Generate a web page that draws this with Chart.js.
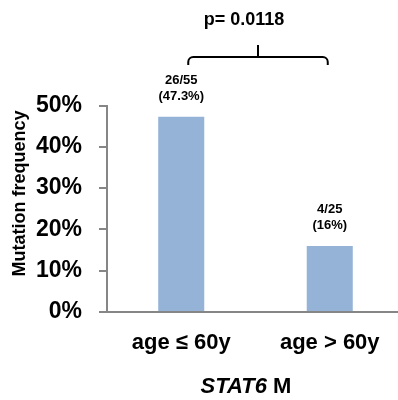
<!DOCTYPE html>
<html>
<head>
<meta charset="utf-8">
<script src="https://cdn.jsdelivr.net/npm/chart.js@4"></script>
<style>
  html, body { margin: 0; padding: 0; background: #fff; overflow: hidden; }
  canvas { position: absolute; left: 0; top: 0; }
</style>
</head>
<body>
<canvas id="c" width="410" height="400"></canvas>
<script>
// Mutation frequency by age group
const categories = ['age \u2264 60y', 'age > 60y'];
const mutatedCases = [26, 4];
const totalCases = [55, 25];
const mutationPct = [47.3, 16];
const yTickValues = [0, 10, 20, 30, 40, 50];
const yAxisTitle = 'Mutation frequency';
const pValue = '0.0118';
const geneName = 'STAT6';
const geneSuffix = ' M';

const FONT = '"Liberation Sans", Arial, sans-serif';
const AXIS_GREY = '#868686';
const BAR_BLUE = '#95B3D7';

// Value labels, significance bracket, axis title and the gene caption
const annotations = {
  id: 'annotations',
  afterDraw(chart) {
    const ctx = chart.ctx;
    const bars = chart.getDatasetMeta(0).data;
    const area = chart.chartArea;
    ctx.save();
    ctx.fillStyle = '#000';
    ctx.textAlign = 'center';
    ctx.textBaseline = 'middle';

    ctx.font = 'bold 13px ' + FONT;
    bars.forEach((bar, i) => {
      ctx.fillText(mutatedCases[i] + '/' + totalCases[i], bar.x, bar.y - 36.5);
      ctx.fillText('(' + mutationPct[i] + '%)', bar.x, bar.y - 20);
    });

    // bracket spanning both groups
    const a = bars[0].x + 7;
    const b = bars[1].x - 2;
    const mid = (a + b) / 2;
    const yl = area.top - 48.5;
    const ye = area.top - 40.5;
    const yt = area.top - 60.5;
    const r = 5;
    ctx.strokeStyle = '#000';
    ctx.lineWidth = 2;
    ctx.beginPath();
    ctx.moveTo(a, ye);
    ctx.arcTo(a, yl, a + r, yl, r);
    ctx.lineTo(b - r, yl);
    ctx.arcTo(b, yl, b, yl + r, r);
    ctx.lineTo(b, ye);
    ctx.stroke();
    ctx.beginPath();
    ctx.moveTo(mid, yl);
    ctx.lineTo(mid, yt);
    ctx.stroke();

    ctx.font = 'bold 18px ' + FONT;
    ctx.fillText('p= ' + pValue, mid - 14, area.top - 85.5);

    // rotated y-axis title
    ctx.save();
    ctx.translate(area.left - 87, area.top + 88);
    ctx.rotate(-Math.PI / 2);
    ctx.font = 'bold 18px ' + FONT;
    ctx.fillText(yAxisTitle, 0, 0);
    ctx.restore();

    // gene caption: italic name + plain suffix
    const fItal = 'italic bold 22px ' + FONT;
    const fBold = 'bold 22px ' + FONT;
    ctx.font = fItal;
    const w1 = ctx.measureText(geneName).width;
    ctx.font = fBold;
    const w2 = ctx.measureText(geneSuffix).width;
    const cx = area.left + 139;
    const cy = area.bottom + 75;
    let x0 = cx - (w1 + w2) / 2;
    ctx.textAlign = 'left';
    ctx.font = fItal;
    ctx.fillText(geneName, x0, cy);
    ctx.font = fBold;
    ctx.fillText(geneSuffix, x0 + w1, cy);
    ctx.restore();
  }
};

new Chart(document.getElementById('c'), {
  type: 'bar',
  data: {
    labels: categories,
    datasets: [{
      data: mutationPct,
      backgroundColor: BAR_BLUE,
      borderWidth: 0,
      categoryPercentage: 1,
      barPercentage: 0.31
    }]
  },
  options: {
    responsive: false,
    animation: false,
    layout: { padding: { top: 105.5, right: 6, left: 0, bottom: 0 } },
    plugins: { legend: { display: false }, tooltip: { enabled: false } },
    scales: {
      x: {
        afterFit(scale) { scale.height = 88; },
        grid: { display: false, drawTicks: false },
        border: { display: true, color: AXIS_GREY, width: 2 },
        ticks: {
          color: '#000',
          padding: 18,
          font: { family: FONT, size: 22, weight: 'bold' },
          maxRotation: 0
        }
      },
      y: {
        min: 0,
        max: 50,
        afterFit(scale) { scale.width = 107; },
        afterBuildTicks(scale) { scale.ticks = yTickValues.map(v => ({ value: v })); },
        grid: { drawOnChartArea: false, drawTicks: true, tickLength: 8, color: AXIS_GREY, lineWidth: 2 },
        border: { display: true, color: AXIS_GREY, width: 2 },
        ticks: {
          color: '#000',
          padding: 17,
          font: { family: FONT, size: 23, weight: 'bold' },
          callback: v => v + '%'
        }
      }
    }
  },
  plugins: [annotations]
});
</script>
</body>
</html>
